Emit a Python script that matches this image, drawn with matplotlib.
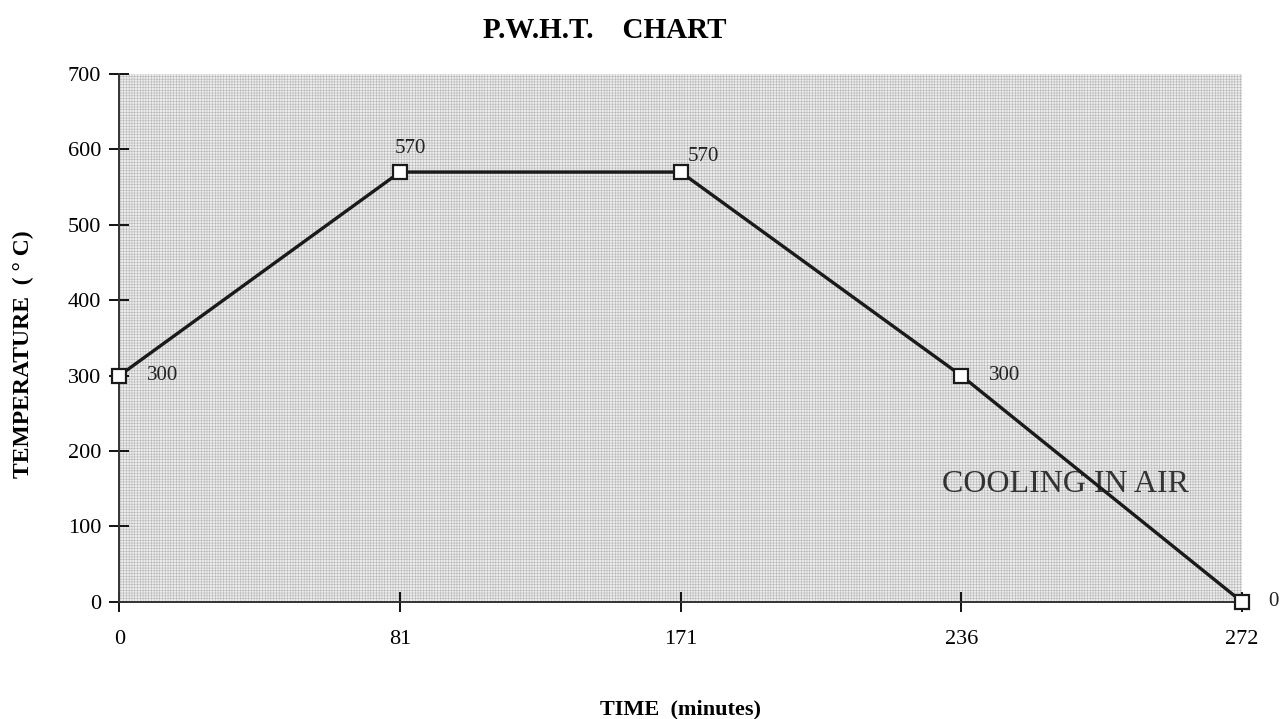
import matplotlib
matplotlib.use("Agg")
import matplotlib.pyplot as plt
from matplotlib.patches import Rectangle

plt.rcParams['hatch.linewidth'] = 0.4
plt.rcParams['font.family'] = ['Liberation Serif', 'DejaVu Serif']

time_labels = ["0", "81", "171", "236", "272"]
temperatures = [300, 570, 570, 300, 0]
point_labels = ["300", "570", "570", "300", "0"]
label_offsets = [(20, 0), (-4, 10), (5, 11), (20, 0), (19, 0)]
y_ticks = [0, 100, 200, 300, 400, 500, 600, 700]

fig = plt.figure(figsize=(12.83, 7.19), dpi=100)
ax = fig.add_axes([0.093, 0.163, 0.875, 0.734])

x = list(range(len(time_labels)))
ax.set_xlim(0, len(time_labels) - 1)
ax.set_ylim(0, 700)

ax.set_facecolor('#ececec')
bg = Rectangle((0, 0), 1, 1, transform=ax.transAxes, facecolor='#ececec',
               edgecolor='#b8b8b8', hatch='++++++', linewidth=0, zorder=0)
ax.add_patch(bg)

ax.plot(x, temperatures, color='#1a1a1a', linewidth=2.4, marker='s',
        markersize=10.5, markerfacecolor='white', markeredgecolor='#1a1a1a',
        markeredgewidth=1.6, zorder=5, clip_on=False)

for i, (xi, yi, lab, off) in enumerate(zip(x, temperatures, point_labels, label_offsets)):
    va = 'bottom' if i in (1,) else 'center'
    ax.annotate(lab, (xi, yi), xytext=off, textcoords='offset points',
                fontsize=15, color='#222222', ha='left', va=va, zorder=6,
                annotation_clip=False)

ax.text(3.37, 155, "COOLING IN AIR", fontsize=23, color='#333333',
        ha='center', va='center', zorder=4)

ax.set_xticks(x)
ax.set_xticklabels(time_labels, fontsize=16)
ax.set_yticks(y_ticks)
ax.tick_params(axis='y', labelsize=16, direction='inout', length=14, width=1.3, pad=6)
ax.tick_params(axis='x', direction='inout', length=14, width=1.3, pad=13)
for s in ['top', 'right']:
    ax.spines[s].set_visible(False)
for s in ['left', 'bottom']:
    ax.spines[s].set_linewidth(1.4)
    ax.spines[s].set_color('#333333')

ax.set_title("P.W.H.T.    CHART", fontsize=21, fontweight='bold', pad=26, x=0.432)
ax.set_xlabel("TIME  (minutes)", fontsize=16, fontweight='bold')
ax.xaxis.set_label_coords(0.5, -0.185)
ax.set_ylabel("TEMPERATURE  ( ° C)", fontsize=17, fontweight='bold')
ax.yaxis.set_label_coords(-0.076, 0.47)

fig.savefig("out.png", dpi=100)
